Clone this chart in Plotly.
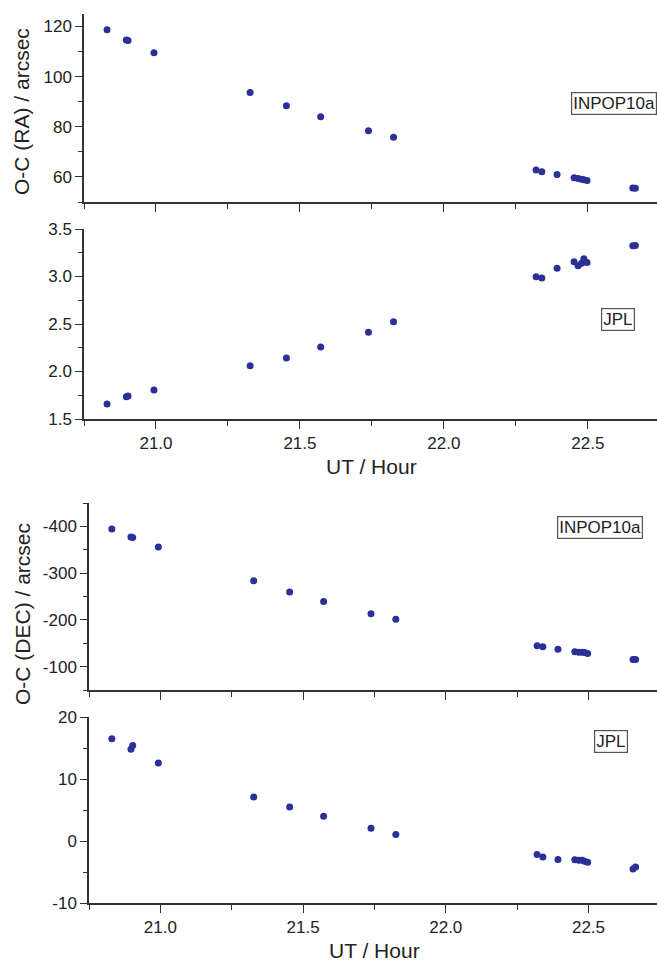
import plotly.graph_objects as go

# observation times (UT, hours)
ut = [20.830, 20.897, 20.903, 20.993, 21.327, 21.453, 21.572, 21.738, 21.825,
      22.320, 22.340, 22.393, 22.452, 22.466, 22.478, 22.486, 22.497, 22.656, 22.665]

# O-C residuals, arcsec
ra_inpop = [118.7, 114.6, 114.4, 109.5, 93.7, 88.4, 84.0, 78.4, 75.8,
            62.8, 62.1, 61.0, 59.7, 59.4, 59.1, 58.9, 58.6, 55.6, 55.5]
ra_jpl = [1.657, 1.734, 1.742, 1.805, 2.061, 2.142, 2.258, 2.413, 2.525,
          2.997, 2.985, 3.087, 3.155, 3.113, 3.140, 3.187, 3.147, 3.324, 3.327]
dec_inpop = [-394.2, -377.5, -376.0, -355.7, -283.7, -259.4, -239.4, -213.0, -201.5,
             -144.5, -142.4, -137.3, -131.7, -131.0, -130.5, -130.0, -128.0, -115.4, -115.0]
dec_jpl = [16.5, 14.8, 15.4, 12.6, 7.1, 5.5, 4.0, 2.06, 1.03,
           -2.19, -2.6, -2.99, -3.04, -3.09, -3.1, -3.25, -3.41, -4.53, -4.21]

dec_inpop_ticks = [-400, -300, -200, -100]
dec_inpop_labels = ["-400", "-300", "-200", "-100"]
dec_jpl_ticks = [-10, 0, 10, 20]
dec_jpl_labels = ["-10", "0", "10", "20"]

W, H = 657, 965
AX = "#333333"
DOT = "#2b2f98"
FONT = "Liberation Sans, Arial, sans-serif"


def px(x):
    return x / W


def py(y):
    return (H - y) / H


fig = go.Figure()
series = [ra_inpop, ra_jpl, dec_inpop, dec_jpl]
for i, vals in enumerate(series):
    n = "" if i == 0 else str(i + 1)
    fig.add_trace(go.Scatter(x=ut, y=vals, mode="markers", xaxis="x" + n, yaxis="y" + n,
                             marker=dict(color=DOT, size=7), showlegend=False))

xcommon = dict(range=[20.75, 22.74], dtick=0.5, tick0=0, tickformat=".1f", automargin=False,
               showline=True, linecolor=AX, linewidth=1.5, ticks="outside",
               ticklen=8, tickwidth=1.2, tickcolor=AX, showgrid=False, zeroline=False,
               tickfont=dict(size=17, color="#222"),
               minor=dict(dtick=0.25, tick0=0, ticks="outside", ticklen=5,
                          tickcolor=AX, tickwidth=1.2))
ycommon = dict(showline=True, linecolor=AX, linewidth=1.5, ticks="outside", automargin=False,
               ticklen=7, tickwidth=1.2, tickcolor=AX, showgrid=False, zeroline=False,
               tickfont=dict(size=17, color="#222"))

top_dom = [px(84), 1]
bot_dom = [px(89), 1]

fig.update_layout(
    xaxis=dict(xcommon, domain=top_dom, anchor="y", showticklabels=False),
    xaxis2=dict(xcommon, domain=top_dom, anchor="y2"),
    xaxis3=dict(xcommon, domain=bot_dom, anchor="y3", showticklabels=False),
    xaxis4=dict(xcommon, domain=bot_dom, anchor="y4"),
    yaxis=dict(ycommon, domain=[py(202), py(14)], anchor="x", range=[50, 125], dtick=20, tick0=0,
               minor=dict(dtick=10, tick0=0, ticks="outside", ticklen=4, tickcolor=AX, tickwidth=1.2)),
    yaxis2=dict(ycommon, domain=[py(419), py(229)], anchor="x2", range=[1.5, 3.5], dtick=0.5,
                tick0=0, tickformat=".1f",
                minor=dict(dtick=0.25, tick0=0, ticks="outside", ticklen=4, tickcolor=AX, tickwidth=1.2)),
    yaxis3=dict(ycommon, domain=[py(690), py(503)], anchor="x3", range=[-50, -450],
                tickmode="array", tickvals=dec_inpop_ticks, ticktext=dec_inpop_labels,
                minor=dict(tickmode="linear", dtick=50, tick0=0, ticks="outside", ticklen=4,
                           tickcolor=AX, tickwidth=1.2)),
    yaxis4=dict(ycommon, domain=[py(903), py(717)], anchor="x4", range=[-10, 20],
                tickmode="array", tickvals=dec_jpl_ticks, ticktext=dec_jpl_labels,
                minor=dict(tickmode="linear", dtick=5, tick0=0, ticks="outside", ticklen=4,
                           tickcolor=AX, tickwidth=1.2)),
    width=W, height=H, margin=dict(l=0, r=0, t=0, b=0, pad=0),
    paper_bgcolor="white", plot_bgcolor="white",
    font=dict(family=FONT, color="#222"),
)

# axis titles
for text, x, y, ang, yanc in [("O-C (RA) / arcsec", 22, 112, -90, "middle"),
                              ("O-C (DEC) / arcsec", 22, 614, -90, "middle"),
                              ("UT / Hour", 371, 466, 0, "middle"),
                              ("UT / Hour", 374, 964, 0, "bottom")]:
    fig.add_annotation(text=text, x=px(x), y=py(y), xref="paper", yref="paper",
                       textangle=ang, showarrow=False, font=dict(size=21, color="#222"),
                       xanchor="center", yanchor=yanc)

# boxed labels
for text, x, y in [("INPOP10a", 614, 103.5), ("JPL", 618, 319),
                   ("INPOP10a", 599.5, 527), ("JPL", 610.5, 741.5)]:
    fig.add_annotation(text=text, x=px(x), y=py(y), xref="paper", yref="paper",
                       showarrow=False, font=dict(size=17, color="#222"),
                       bordercolor="#555", borderwidth=1.2, borderpad=1,
                       bgcolor="white", xanchor="center", yanchor="middle")

# drop the page's default body margin so the figure sits at the window origin
fig.write_html("out.html", config={"displayModeBar": False},
               post_script="document.body.style.margin='0';document.body.style.overflow='hidden';")
